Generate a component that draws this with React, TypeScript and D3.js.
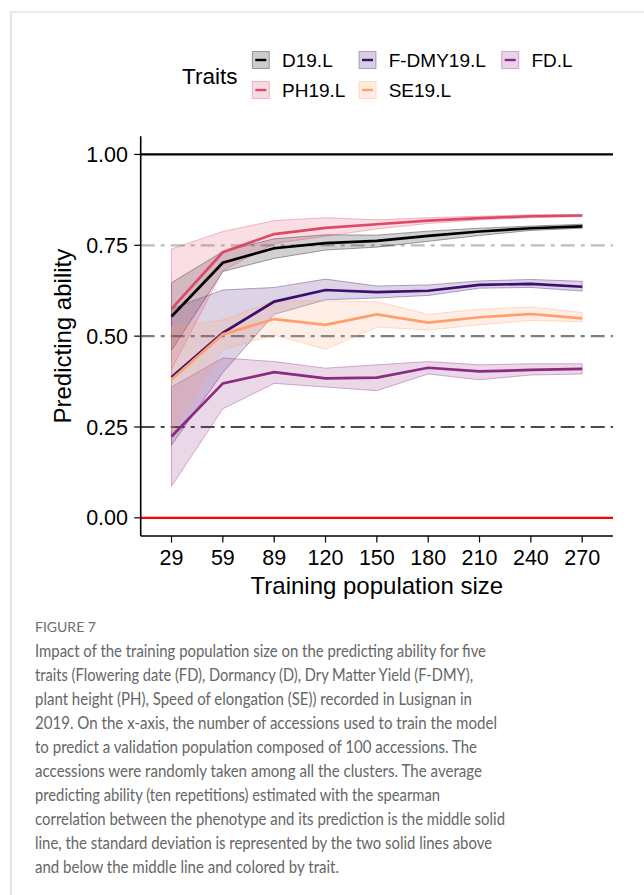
import React from 'react';
import * as d3 from 'd3';

// training population sizes (x categories)
const sizes = ['29', '59', '89', '120', '150', '180', '210', '240', '270'];

const traits = ['D19.L', 'F-DMY19.L', 'FD.L', 'PH19.L', 'SE19.L'];
const traitColors = ['#000004', '#3B0F70', '#8C2981', '#DE4968', '#FE9F6D'];

// mean predicting ability and +/- sd bounds
const dMean = [0.554, 0.702, 0.742, 0.756, 0.762, 0.776, 0.788, 0.797, 0.802];
const dUpper = [0.647, 0.733, 0.768, 0.779, 0.778, 0.789, 0.797, 0.803, 0.808];
const dLower = [0.461, 0.678, 0.714, 0.737, 0.745, 0.761, 0.777, 0.791, 0.797];

const fdmyMean = [0.387, 0.509, 0.595, 0.627, 0.621, 0.625, 0.641, 0.644, 0.636];
const fdmyUpper = [0.575, 0.627, 0.634, 0.657, 0.638, 0.641, 0.652, 0.656, 0.651];
const fdmyLower = [0.2, 0.4, 0.56, 0.6, 0.605, 0.612, 0.632, 0.634, 0.624];

const fdMean = [0.224, 0.37, 0.401, 0.384, 0.386, 0.413, 0.403, 0.407, 0.41];
const fdUpper = [0.36, 0.44, 0.43, 0.412, 0.421, 0.43, 0.421, 0.424, 0.424];
const fdLower = [0.087, 0.3, 0.37, 0.36, 0.35, 0.396, 0.38, 0.393, 0.396];

const phMean = [0.575, 0.731, 0.781, 0.798, 0.808, 0.818, 0.825, 0.83, 0.832];
const phUpper = [0.74, 0.788, 0.818, 0.826, 0.82, 0.826, 0.83, 0.834, 0.835];
const phLower = [0.409, 0.68, 0.755, 0.775, 0.795, 0.81, 0.82, 0.826, 0.829];

const seMean = [0.381, 0.505, 0.547, 0.531, 0.56, 0.537, 0.552, 0.561, 0.549];
const seUpper = [0.526, 0.545, 0.597, 0.597, 0.595, 0.56, 0.574, 0.58, 0.565];
const seLower = [0.237, 0.462, 0.503, 0.464, 0.525, 0.517, 0.531, 0.543, 0.54];

const yTicks = [0, 0.25, 0.5, 0.75, 1];
const refLevels = [1, 0.75, 0.5, 0.25, 0];

const captionTitle = 'FIGURE 7';
const captionLines = [
  'Impact of the training population size on the predicting ability for five',
  'traits (Flowering date (FD), Dormancy (D), Dry Matter Yield (F-DMY),',
  'plant height (PH), Speed of elongation (SE)) recorded in Lusignan in',
  '2019. On the x-axis, the number of accessions used to train the model',
  'to predict a validation population composed of 100 accessions. The',
  'accessions were randomly taken among all the clusters. The average',
  'predicting ability (ten repetitions) estimated with the spearman',
  'correlation between the phenotype and its prediction is the middle solid',
  'line, the standard deviation is represented by the two solid lines above',
  'and below the middle line and colored by trait.',
];
// measured widths of each caption line in the figure (layout only)
const captionWidths = [451, 438, 437, 462, 442, 447, 405, 470, 457, 304];

const means = [dMean, fdmyMean, fdMean, phMean, seMean];
const uppers = [dUpper, fdmyUpper, fdUpper, phUpper, seUpper];
const lowers = [dLower, fdmyLower, fdLower, phLower, seLower];

const refStyle = (v: number) => {
  if (v === 1) return { stroke: '#000000', dash: undefined };
  if (v === 0) return { stroke: '#ff0000', dash: undefined };
  if (v === 0.75) return { stroke: '#bdbdbd', dash: '14 6 4 6' };
  if (v === 0.5) return { stroke: '#7f7f7f', dash: '14 6 4 6' };
  return { stroke: '#4a4a4a', dash: '14 6 4 6' };
};

export default function App() {
  const left = 140.7, right = 613, top = 136.3, bottom = 536;

  const x = d3.scalePoint<string>().domain(sizes).range([left, right]).padding(0.6);
  const y = d3.scaleLinear().domain([-0.05, 1.05]).range([bottom, top]);

  const series = traits.map((name, i) => ({
    name,
    color: traitColors[i],
    pts: sizes.map((s, j) => ({ s, m: means[i][j], lo: lowers[i][j], hi: uppers[i][j] })),
  }));

  const area = d3.area<any>().x(d => x(d.s)!).y0(d => y(d.lo)).y1(d => y(d.hi));
  const line = d3.line<any>().x(d => x(d.s)!).y(d => y(d.m));
  const fmt = d3.format('.2f');

  const legendCols = [252.3, 359, 501.7];
  const legendRows = [60, 90];

  return (
    <svg width={644} height={895} style={{ position: 'absolute', left: 0, top: 0, background: '#fff' }}
      fontFamily="'Liberation Sans', Arial, Helvetica, sans-serif">
      {/* page frame */}
      <path d="M11,895 L11,12 L644,12" fill="none" stroke="#d6d6d6" strokeWidth={1.2} />

      {/* legend */}
      <text x={182} y={84} fontSize={22.5} fill="#000">Traits</text>
      {series.map((s, i) => {
        const cx = legendCols[i % 3];
        const cy = legendRows[Math.floor(i / 3)];
        return (
          <g key={s.name}>
            <rect x={cx} y={cy - 8.5} width={17} height={17} fill={s.color} fillOpacity={0.2}
              stroke={s.color} strokeOpacity={0.35} strokeWidth={1} />
            <line x1={cx + 3} x2={cx + 14} y1={cy} y2={cy} stroke={s.color} strokeWidth={2.4} />
            <text x={cx + 29.7} y={cy} dy="0.35em" fontSize={19}>{s.name}</text>
          </g>
        );
      })}

      {/* reference lines */}
      {refLevels.map(v => {
        const st = refStyle(v);
        return (
          <line key={v} x1={left} x2={right} y1={y(v)} y2={y(v)} stroke={st.stroke}
            strokeWidth={2.2} strokeDasharray={st.dash} />
        );
      })}

      {/* sd ribbons */}
      {series.map(s => (
        <path key={s.name + '-band'} d={area(s.pts)!} fill={s.color} fillOpacity={0.18}
          stroke={s.color} strokeOpacity={0.45} strokeWidth={0.8} />
      ))}
      {/* mean lines */}
      {series.map(s => (
        <path key={s.name + '-line'} d={line(s.pts)!} fill="none" stroke={s.color} strokeWidth={2.7} />
      ))}

      {/* axes */}
      <line x1={left} x2={left} y1={top} y2={bottom} stroke="#000" strokeWidth={1.6} />
      <line x1={left} x2={right} y1={bottom} y2={bottom} stroke="#000" strokeWidth={1.6} />
      {yTicks.map(t => (
        <g key={'y' + t}>
          <line x1={left - 6.5} x2={left} y1={y(t)} y2={y(t)} stroke="#000" strokeWidth={1.2} />
          <text x={128} y={y(t)} dy="0.35em" textAnchor="end" fontSize={21.5}>{fmt(t)}</text>
        </g>
      ))}
      {sizes.map(s => (
        <g key={'x' + s}>
          <line x1={x(s)} x2={x(s)} y1={bottom} y2={bottom + 6.5} stroke="#000" strokeWidth={1.2} />
          <text x={x(s)} y={565} textAnchor="middle" fontSize={21.5}>{s}</text>
        </g>
      ))}
      <text x={(left + right) / 2} y={594} textAnchor="middle" fontSize={24}>Training population size</text>
      <text transform={`translate(71,${(top + bottom) / 2}) rotate(-90)`} textAnchor="middle" fontSize={24}>
        Predicting ability
      </text>

      {/* caption */}
      <text x={35} y={632} fontSize={14} fill="#6f6f6f" fontFamily="Lato, 'Open Sans', sans-serif">{captionTitle}</text>
      {captionLines.map((t, i) => (
        <text key={i} x={35} y={657 + i * 24} fontSize={17.5} fill="#666"
          fontFamily="Lato, 'Open Sans', sans-serif" textLength={captionWidths[i]} lengthAdjust="spacingAndGlyphs">
          {t}
        </text>
      ))}
    </svg>
  );
}
